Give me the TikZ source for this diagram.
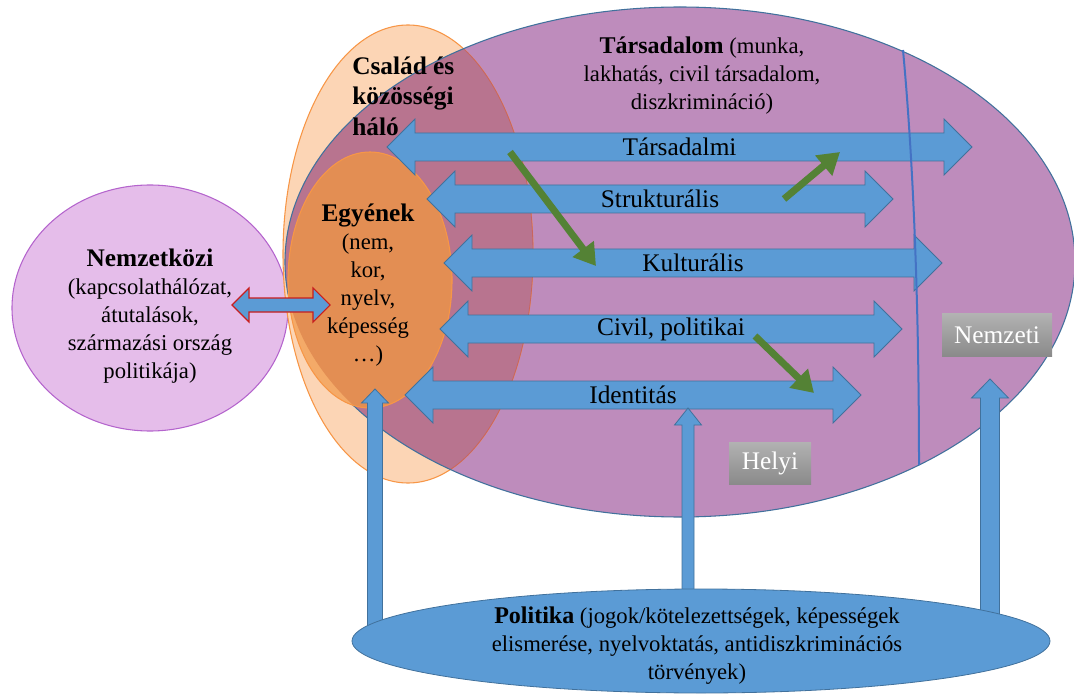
\documentclass[tikz,border=0pt]{standalone}
\usepackage{fontspec}
\setmainfont{Liberation Serif}
\usetikzlibrary{arrows.meta,calc,positioning}

\definecolor{lila}{RGB}{190,140,188}
\definecolor{barack}{RGB}{252,213,181}
\definecolor{atfedes}{RGB}{184,116,143}
\definecolor{narancs}{RGB}{247,150,70}
\definecolor{barackkeret}{RGB}{200,100,95}
\definecolor{egyen}{RGB}{227,142,83}
\definecolor{egyenvil}{RGB}{244,170,104}
\definecolor{kek}{RGB}{91,155,213}
\definecolor{kekkeret}{RGB}{65,113,156}
\definecolor{zold}{RGB}{84,130,53}
\definecolor{nemzk}{RGB}{229,189,234}
\definecolor{nemzkkeret}{RGB}{180,100,205}
\definecolor{valaszto}{RGB}{68,114,196}
\definecolor{piros}{RGB}{200,30,30}
\definecolor{szurkefent}{RGB}{178,178,178}
\definecolor{szurkelent}{RGB}{138,138,138}

\tikzset{
  kekfolt/.style={fill=kek,draw=kekkeret,line width=0.6pt},
  zoldnyil/.style={draw=zold,line width=5.25pt,-{Triangle[length=16pt,width=19pt]}},
  szurke/.style={top color=szurkefent,bottom color=szurkelent,text=white,inner sep=0pt,font=\fontsize{19}{22}\selectfont},
  cimke/.style={font=\fontsize{19}{22}\selectfont,inner sep=0pt},
  szoveg/.style={align=center,font=\fontsize{17}{21}\selectfont,inner sep=0pt}
}

\begin{document}
\begin{tikzpicture}[x=0.75pt,y=-0.75pt]
    \useasboundingbox (0,0) rectangle (1074,695);

    % nemzetkozi kor
    \draw[fill=nemzk,draw=nemzkkeret,line width=0.8pt] (150,308) ellipse [x radius=138, y radius=123];

    % csalad es tarsadalom
    \fill[barack] (408,254) ellipse [x radius=125, y radius=229];
    \fill[lila] (680,262) ellipse [x radius=395, y radius=255];
    \draw[narancs,line width=0.8pt] (408,254) ellipse [x radius=125, y radius=229];
    \begin{scope}
        \clip (680,262) ellipse [x radius=395, y radius=255];
        \fill[atfedes] (408,254) ellipse [x radius=125, y radius=229];
        \draw[barackkeret,line width=0.6pt] (408,254) ellipse [x radius=125, y radius=229];
    \end{scope}
    \draw[kekkeret,line width=0.8pt] (680,262) ellipse [x radius=395, y radius=255];

    % egyenek
    \fill[egyenvil] (370,280) ellipse [x radius=82, y radius=128];
    \begin{scope}
        \clip (680,262) ellipse [x radius=395, y radius=255];
        \fill[egyen] (370,280) ellipse [x radius=82, y radius=128];
    \end{scope}
    \draw[narancs,line width=0.8pt] (370,280) ellipse [x radius=82, y radius=128];

    % ketiranyu nyilak
    \foreach \bal/\jobb/\y/\nev/\felirat in {387/972/147/tarsadalmi/Társadalmi, 427/893/199/strukt/Strukturális, 444/942/263/kult/Kulturális, 440/902/329/civil/{Civil, politikai}, 405/861/395/ident/Identitás}{
        \draw[kekfolt] (\bal,\y) -- ++(28,-28) -- ++(0,14) -- (\jobb-28,\y-14) -- ++(0,-14) -- (\jobb,\y)
            -- ++(-28,28) -- ++(0,-14) -- (\bal+28,\y+14) -- ++(0,14) -- cycle;
        \node[cimke] (\nev) at ({(\bal+\jobb)/2},\y) {\felirat};
    }

    % helyi / nemzeti hatar
    \draw[valaszto,line width=1.5pt] (903,50) .. controls (915,180) and (919,330) .. (919,465);

    % zold nyilak
    \coordinate (z1) at (510,152);
    \coordinate (z2) at (596,266);
    \coordinate (z3) at (784,199);
    \coordinate (z4) at (840,152);
    \coordinate (z5) at (755,336);
    \coordinate (z6) at (814,393);
    \draw[zoldnyil] (z1) -- (z2);
    \draw[zoldnyil] (z3) -- (z4);
    \draw[zoldnyil] (z5) -- (z6);

    % nemzetkozi kapcsolat
    \draw[fill=kek,draw=piros,line width=0.8pt] (232,305) -- ++(17,-17) -- ++(0,10) -- (313,298) -- ++(0,-10) -- (330,305)
        -- ++(-17,17) -- ++(0,-10) -- (249,312) -- ++(0,10) -- cycle;

    % politika felfele
    \foreach \x/\csucs/\fej/\szar/\hossz in {375/389/13.5/7.5/14, 688/408/13.5/6/17, 990/379/18.5/9.5/19}
        \draw[kekfolt] (\x,\csucs) -- (\x+\fej,\csucs+\hossz) -- (\x+\szar,\csucs+\hossz) -- (\x+\szar,641)
            -- (\x-\szar,641) -- (\x-\szar,\csucs+\hossz) -- (\x-\fej,\csucs+\hossz) -- cycle;
    \draw[kekfolt] (701,641) ellipse [x radius=349, y radius=52];

    % szurke cimkek
    \node[szurke,minimum width=61.5pt,minimum height=31.5pt] (helyi) at (770,463) {Helyi};
    \node[szurke,minimum width=82.5pt,minimum height=32pt] (nemzeti) at (997,335) {Nemzeti};

    % szovegek
    \node[szoveg] (tarsadalom) at (702,76) {{\bfseries\fontsize{18}{21}\selectfont Társadalom} (munka,\\ lakhatás, civil társadalom,\\ diszkrimináció)};
    \node[anchor=west,align=left,inner sep=0pt,font=\bfseries\fontsize{19}{23}\selectfont] (csalad) at (352,96) {Család és\\ közösségi\\ háló};
    \node[szoveg] (egyenek) at (368,285) {{\bfseries\fontsize{19}{21}\selectfont Egyének}\\ (nem,\\ kor,\\ nyelv,\\ képesség\\ …)};
    \node[szoveg] (nemzetkozi) at (150,316) {{\bfseries\fontsize{19}{21}\selectfont Nemzetközi}\\ (kapcsolathálózat,\\ átutalások,\\ származási ország\\ politikája)};
    \node[szoveg] (politika) at (697,646) {{\bfseries\fontsize{18}{21}\selectfont Politika} (jogok/kötelezettségek, képességek\\ elismerése, nyelvoktatás, antidiszkriminációs\\ törvények)};
\end{tikzpicture}
\end{document}
